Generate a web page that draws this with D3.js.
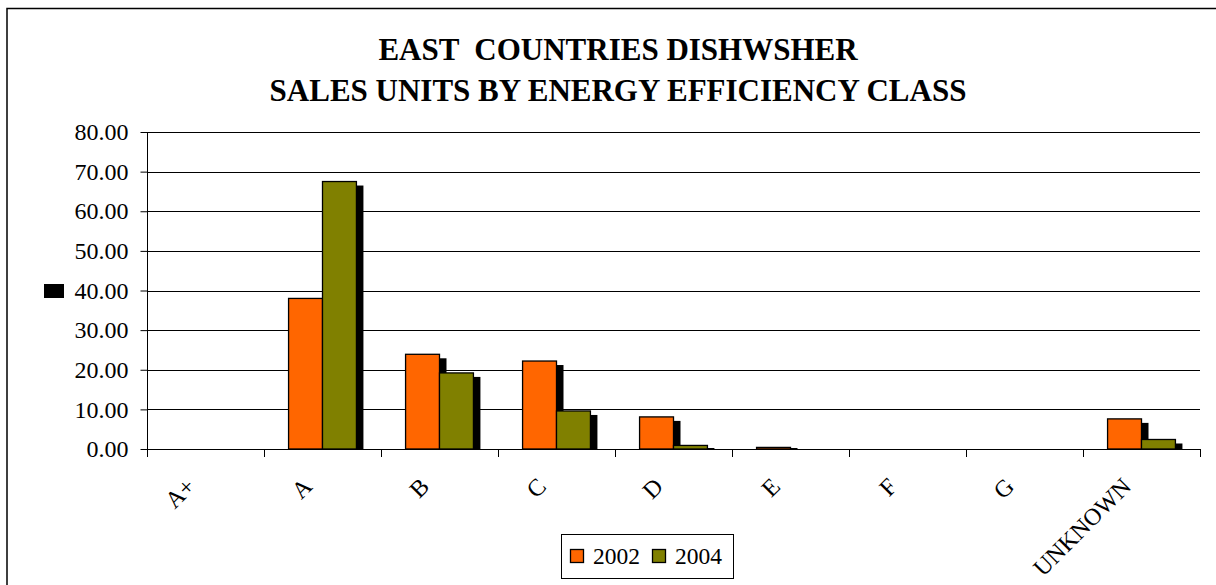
<!DOCTYPE html>
<html>
<head>
<meta charset="utf-8">
<script src="https://cdn.jsdelivr.net/npm/d3@7"></script>
<style>
  html, body { margin: 0; padding: 0; background: #fff; }
  svg { display: block; }
</style>
</head>
<body>
<svg id="chart" width="1216" height="585"></svg>
<script>
// Energy efficiency classes and sales share per year
const categories = ["A+", "A", "B", "C", "D", "E", "F", "G", "UNKNOWN"];
const seriesNames = ["2002", "2004"];
const values2002 = [0, 38.0, 23.9, 22.2, 8.1, 0.4, 0, 0, 7.6];
const values2004 = [0, 67.5, 19.2, 9.6, 0.9, 0, 0, 0, 2.4];
const yTicks = [0, 10, 20, 30, 40, 50, 60, 70, 80];
const titleLines = ["EAST  COUNTRIES DISHWSHER", "SALES UNITS BY ENERGY EFFICIENCY CLASS"];
const colors = { "2002": "#FF6600", "2004": "#808000" };

const serif = "'Liberation Serif', 'Times New Roman', serif";
const svg = d3.select("#chart");

// outer chart frame
svg.append("rect")
  .attr("x", 7).attr("y", 8.5).attr("width", 1400).attr("height", 800)
  .attr("fill", "none").attr("stroke", "#000").attr("stroke-width", 1.5);

const plot = { left: 147, right: 1200, top: 132, bottom: 449 };

const x = d3.scaleBand().domain(categories).range([plot.left, plot.right]).padding(0);
const bw = x.bandwidth();
const x1 = d3.scaleBand().domain(seriesNames).range([bw * 0.21, bw * 0.79]).padding(0);
const y = d3.scaleLinear().domain([0, 80]).range([plot.bottom, plot.top]);

// title
svg.append("g").selectAll("text").data(titleLines).join("text")
  .attr("x", 618).attr("y", (d, i) => 59.5 + i * 41.5)
  .attr("text-anchor", "middle")
  .style("white-space", "pre")
  .style("font-family", serif)
  .style("font-size", "31px").style("font-weight", "bold")
  .attr("fill", "#000")
  .text(d => d);

// horizontal gridlines
svg.append("g").selectAll("line").data(yTicks.filter(t => t > 0)).join("line")
  .attr("x1", plot.left).attr("x2", plot.right)
  .attr("y1", d => Math.round(y(d)) + 0.5).attr("y2", d => Math.round(y(d)) + 0.5)
  .attr("stroke", "#000").attr("stroke-width", 1);

// bars with drop shadows
const rows = categories.map((c, i) => ({ cat: c, vals: [
  { s: "2002", v: values2002[i] }, { s: "2004", v: values2004[i] }
]}));

const groups = svg.append("g").selectAll("g").data(rows).join("g")
  .attr("transform", d => `translate(${x(d.cat)},0)`);

const sdx = 7, sdy = 4;
groups.selectAll("rect.shadow").data(d => d.vals.filter(e => e.v > 0)).join("rect")
  .attr("class", "shadow")
  .attr("x", d => x1(d.s) + sdx)
  .attr("y", d => Math.min(y(d.v) + sdy, y(0) - 1))
  .attr("width", x1.bandwidth())
  .attr("height", d => Math.max(1, y(0) - Math.min(y(d.v) + sdy, y(0) - 1)))
  .attr("fill", "#000");

groups.selectAll("rect.bar").data(d => d.vals.filter(e => e.v > 0)).join("rect")
  .attr("class", "bar")
  .attr("x", d => x1(d.s))
  .attr("y", d => y(d.v))
  .attr("width", x1.bandwidth())
  .attr("height", d => y(0) - y(d.v))
  .attr("fill", d => colors[d.s])
  .attr("stroke", "#000").attr("stroke-width", 1.3);

// y axis
const yAxis = d3.axisLeft(y).tickValues(yTicks).tickFormat(d3.format(".2f"))
  .tickSize(7).tickPadding(12);
const gy = svg.append("g").attr("transform", `translate(${plot.left + 0.5},0)`).call(yAxis);
gy.select(".domain").attr("stroke", "#000").attr("d", `M0,${plot.top}V${plot.bottom}`);
gy.selectAll(".tick line").attr("stroke", "#000");
gy.selectAll(".tick text").attr("fill", "#000")
  .style("font-family", serif).style("font-size", "24px");

// x axis baseline and category ticks at band edges
svg.append("line")
  .attr("x1", plot.left).attr("x2", plot.right)
  .attr("y1", plot.bottom + 0.5).attr("y2", plot.bottom + 0.5)
  .attr("stroke", "#000");
const edges = categories.map(c => x(c)).concat([plot.right]);
svg.append("g").selectAll("line").data(edges).join("line")
  .attr("x1", d => Math.round(d) + 0.5).attr("x2", d => Math.round(d) + 0.5)
  .attr("y1", plot.bottom).attr("y2", plot.bottom + 8)
  .attr("stroke", "#000");

// rotated category labels
svg.append("g").selectAll("text").data(categories).join("text")
  .attr("transform", c => `translate(${x(c) + bw / 2 - 9},488) rotate(-45)`)
  .attr("text-anchor", "end")
  .style("font-family", serif).style("font-size", "24px")
  .attr("fill", "#000")
  .text(c => c);

// y-axis title placeholder box
svg.append("rect").attr("x", 44).attr("y", 284).attr("width", 20).attr("height", 14).attr("fill", "#000");

// legend
const legend = svg.append("g").attr("transform", "translate(561,534)");
legend.append("rect").attr("x", 0.5).attr("y", 0.5).attr("width", 172).attr("height", 44)
  .attr("fill", "#fff").attr("stroke", "#000");
const li = legend.selectAll("g").data(seriesNames).join("g")
  .attr("transform", (d, i) => `translate(${9 + i * 82},0)`);
li.append("rect").attr("x", 0.5).attr("y", 15.5).attr("width", 13).attr("height", 13)
  .attr("fill", d => colors[d]).attr("stroke", "#000").attr("stroke-width", 1.3);
li.append("text").attr("x", 23).attr("y", 29.5)
  .style("font-family", serif).style("font-size", "23.5px")
  .attr("fill", "#000")
  .text(d => d);
</script>
</body>
</html>
